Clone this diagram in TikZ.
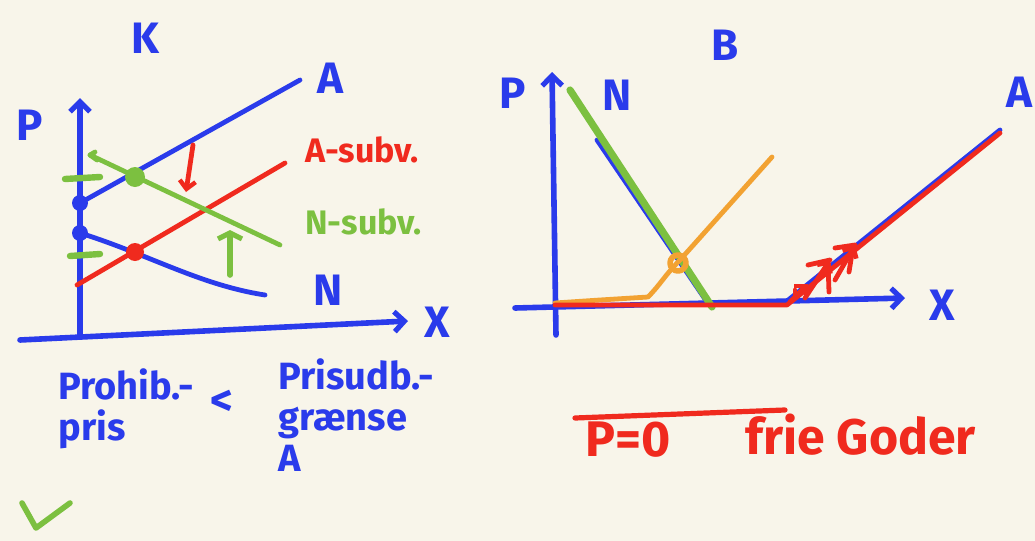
\documentclass[tikz,border=0pt]{standalone}
\usepackage{fontspec}
\setmainfont{Fira Sans}
\usetikzlibrary{arrows.meta}
\definecolor{bg}{HTML}{F8F5EA}
\definecolor{hb}{HTML}{2A3BEB}
\definecolor{hr}{HTML}{F02A1E}
\definecolor{hg}{HTML}{7CC040}
\definecolor{ho}{HTML}{F2A232}
\begin{document}
\begin{tikzpicture}[x=0.5pt,y=-0.5pt, line cap=round, line join=round,
  pen/.style={line width=2.4pt},
  axisline/.style={line width=2.8pt, hb, -{Straight Barb[length=5pt,width=10pt,line width=2.6pt]}},
  barb/.style={-{Straight Barb[length=4pt,width=8pt,line width=2.2pt]}},
  lbl/.style={font=\fontsize{22}{24}\selectfont\bfseries, inner sep=0pt},
  sml/.style={font=\fontsize{17}{19}\selectfont\bfseries, inner sep=0pt},
  txt/.style={font=\fontsize{19}{20.5}\selectfont\bfseries, inner sep=0pt, align=left, text=hb}]
\fill[bg] (0,0) rectangle (1035,541);
\useasboundingbox (0,0) rectangle (1035,541);

% ---------- left diagram ----------
\node[lbl, hb] (tK) at (145,38) {K};
\coordinate (ly0) at (80,335);
\coordinate (ly1) at (80,98);
\coordinate (lx0) at (20,340);
\coordinate (lx1) at (408,321);
\draw[axisline] (ly0) -- (ly1);
\draw[axisline] (lx0) -- (lx1);
\node[lbl, hb] (lP) at (30,125) {P};
\node[lbl, hb] (lX) at (437,322) {X};

\coordinate (a0) at (80,203);
\coordinate (a1) at (300,80);
\draw[pen, hb] (a0) -- (a1);
\node[lbl, hb] (lA) at (330,78) {A};

\coordinate (n0) at (80,233);
\coordinate (n1) at (265,295);
\draw[pen, hb] (n0) .. controls (150,255) and (200,285) .. (n1);
\node[lbl, hb] (lN) at (328,290) {N};

\coordinate (r0) at (77,285);
\coordinate (r1) at (285,163);
\draw[pen, hr] (r0) -- (r1);
\node[sml, hr, anchor=west] (lAs) at (305,150) {A-subv.};

\coordinate (g0) at (90,155);
\coordinate (g1) at (280,245);
\draw[pen, hg] (95,152) -- (g0) -- (g1);
\draw[pen, hg] (90,155) -- (97,160);
\node[sml, hg, anchor=west] (lNs) at (305,222) {N-subv.};

\fill[hg] (135,177) circle (10);
\fill[hr] (135,252) circle (9);
\fill[hb] (80,203) circle (8);
\fill[hb] (80,233) circle (8);
\draw[line width=3.2pt, hg] (65,179) -- (100,177);
\draw[line width=3.2pt, hg] (70,256) -- (100,254);

\coordinate (rd0) at (193,145);
\coordinate (rd1) at (186,192);
\draw[pen, hr, barb] (rd0) -- (rd1);
\coordinate (gu0) at (230,275);
\coordinate (gu1) at (230,230);
\draw[line width=2.8pt, hg, -{Straight Barb[length=3pt,width=12pt,line width=2.6pt]}] (gu0) -- (gu1);

% ---------- right diagram ----------
\node[lbl, hb] (tB) at (725,45) {B};
\coordinate (ry0) at (556,335);
\coordinate (ry1) at (552,72);
\coordinate (rx0) at (515,308);
\coordinate (rx1) at (905,298);
\draw[axisline] (ry0) -- (ry1);
\draw[axisline] (rx0) -- (rx1);
\node[lbl, hb] (rP) at (513,93) {P};
\node[lbl, hb] (rN) at (617,95) {N};
\node[lbl, hb] (rX) at (942,305) {X};
\node[lbl, hb] (rA) at (1019,92) {A};

\coordinate (bn0) at (597,140);
\coordinate (bn1) at (707,302);
\draw[pen, hb] (bn0) -- (bn1);
\coordinate (gn0) at (570,90);
\coordinate (gn1) at (712,307);
\draw[line width=3.6pt, hg] (gn0) -- (gn1);

\coordinate (ba0) at (787,301);
\coordinate (ba1) at (1000,130);
\draw[pen, hb] (ba0) -- (ba1);

\coordinate (o0) at (555,303);
\coordinate (o1) at (772,157);
\draw[pen, ho] (o0) -- (600,300) -- (648,297) .. controls (660,285) and (665,275) .. (680,260) -- (o1);
\draw[line width=2.8pt, ho] (678,263) circle (8);

\coordinate (rr0) at (555,305);
\coordinate (rr1) at (787,305);
\coordinate (rr2) at (1000,133);
\draw[pen, hr] (rr0) -- (rr1) -- (rr2);
\draw[pen, hr, barb] (790,302) -- (808,284);
\draw[pen, hr] (795,298) -- (795,290);
\draw[pen, hr, barb] (805,298) -- (830,260);
\draw[pen, hr] (828,262) -- (829,292);
\draw[pen, hr] (808,265) -- (830,260);
\draw[pen, hr, barb] (835,280) -- (855,245);
\draw[pen, hr] (853,247) -- (849,272);
\draw[pen, hr] (835,248) -- (855,245);

% ---------- bottom texts ----------
\node[txt, anchor=north west] (tProh) at (58,368) {Prohib.-\\pris};
\node[lbl, hb] (tLess) at (222,403) {<};
\node[txt, anchor=north west] (tPris) at (278,358) {Prisudb.-\\grænse\\A};
\draw[line width=2.8pt, hg] (22,503) -- (36,528) -- (70,503);

\coordinate (ov0) at (575,418);
\coordinate (ov1) at (785,410);
\draw[line width=2.6pt, hr] (ov0) -- (ov1);
\node[font=\fontsize{25}{27}\selectfont\bfseries, inner sep=0pt, hr, anchor=west] (tP0) at (585,440) {P=0};
\node[font=\fontsize{25}{27}\selectfont\bfseries, inner sep=0pt, hr, anchor=west] (tFree) at (745,435) {frie Goder};
\end{tikzpicture}
\end{document}
